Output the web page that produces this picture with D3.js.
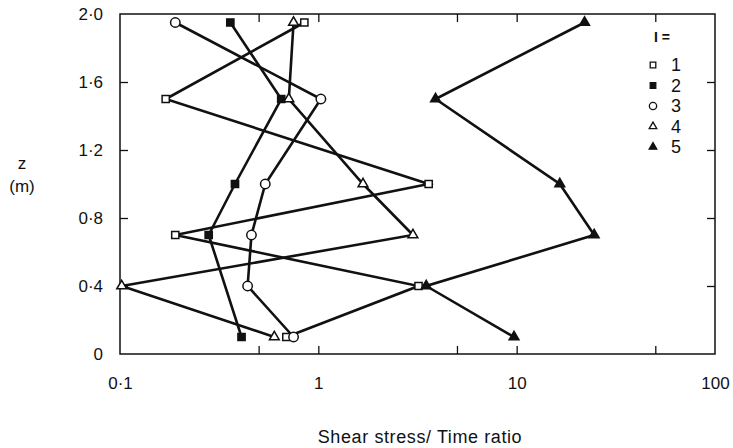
<!DOCTYPE html>
<html>
<head>
<meta charset="utf-8">
<script src="https://cdn.jsdelivr.net/npm/d3@7"></script>
<style>
  body { margin: 0; background: #fff; }
  text { font-family: "Liberation Sans", Arial, sans-serif; fill: #111; }
</style>
</head>
<body>
<div id="chart"></div>
<script>
(function () {

  // depth levels (m)
  const depths = [1.95, 1.5, 1.0, 0.7, 0.4, 0.1];

  // shear stress / time ratio for each series, same order as depths
  const series1 = [0.85, 0.17, 3.6, 0.19, 3.2, 0.69];
  const series2 = [0.36, 0.65, 0.38, 0.28, 0.41];
  const series2Depths = [1.95, 1.5, 1.0, 0.7, 0.1];
  const series3 = [0.19, 1.03, 0.54, 0.46, 0.44, 0.75];
  const series4 = [0.75, 0.71, 1.68, 3.0, 0.102, 0.6];
  const series5 = [22, 3.9, 16.5, 24.6, 3.5, 9.7];

  const seriesNames = ['1', '2', '3', '4', '5'];
  const xTickLabels = [0.1, 1, 10, 100];
  const xMinorTicks = [0.5, 1, 5, 10, 50];
  const yTickLabels = [0, 0.4, 0.8, 1.2, 1.6, 2.0];
  const yInnerTicks = [0.4, 0.8, 1.2, 1.6];

  const width = 733,
    height = 448,
    left = 120, right = 715, top = 14, bottom = 354;

  const x = d3.scaleLog().domain([0.1, 100]).range([left, right]);
  const y = d3.scaleLinear().domain([0, 2]).range([bottom, top]);

  const symbols = [
    { type: d3.symbolSquare, fill: '#fff', size: 52 },
    { type: d3.symbolSquare, fill: '#111', size: 52 },
    { type: d3.symbolCircle, fill: '#fff', size: 70 },
    { type: d3.symbolTriangle, fill: '#fff', size: 42 },
    { type: d3.symbolTriangle, fill: '#111', size: 42 }
  ];

  const data = [
    series1.map((v, i) => ({ x: v, z: depths[i] })),
    series2.map((v, i) => ({ x: v, z: series2Depths[i] })),
    series3.map((v, i) => ({ x: v, z: depths[i] })),
    series4.map((v, i) => ({ x: v, z: depths[i] })),
    series5.map((v, i) => ({ x: v, z: depths[i] }))
  ];

  const svg = d3.select('#chart')
    .append('svg')
    .attr('width', width)
    .attr('height', height);

  const dot = s => String(s).replace('.', '·');

  // inner ticks
  svg.append('g')
    .attr('transform', `translate(0, ${bottom})`)
    .call(d3.axisBottom(x).tickValues(xMinorTicks).tickSize(-8).tickFormat(''))
    .call(g => g.select('.domain').remove());

  svg.append('g')
    .attr('transform', `translate(0, ${top})`)
    .call(d3.axisTop(x).tickValues(xMinorTicks).tickSize(-8).tickFormat(''))
    .call(g => g.select('.domain').remove());

  svg.append('g')
    .attr('transform', `translate(${right}, 0)`)
    .call(d3.axisRight(y).tickValues(yInnerTicks).tickSize(-8).tickFormat(''))
    .call(g => g.select('.domain').remove());

  svg.append('g')
    .attr('transform', `translate(${left}, 0)`)
    .call(d3.axisLeft(y).tickValues(yTickLabels).tickSize(-8).tickPadding(17)
      .tickFormat(d => d === 0 ? '0' : dot(d3.format('.1f')(d))))
    .call(g => g.select('.domain').remove())
    .call(g => g.selectAll('.tick line').filter(d => d === 0 || d === 2).remove())
    .call(g => g.selectAll('text').style('font-size', '17px'));

  svg.append('g')
    .attr('transform', `translate(0, ${bottom})`)
    .call(d3.axisBottom(x).tickValues(xTickLabels).tickSize(0).tickPadding(23)
      .tickFormat(d => dot(d)))
    .call(g => g.select('.domain').remove())
    .call(g => g.selectAll('text').style('font-size', '17px'));

  svg.selectAll('.tick line').attr('stroke', '#111').attr('stroke-width', 1.3);

  // frame
  svg.append('rect')
    .attr('x', left)
    .attr('y', top)
    .attr('width', right - left)
    .attr('height', bottom - top)
    .attr('fill', 'none')
    .attr('stroke', '#111')
    .attr('stroke-width', 1.5);

  // lines
  const line = d3.line().x(d => x(d.x)).y(d => y(d.z));

  svg.selectAll('.serie')
    .data(data)
    .enter()
    .append('path')
    .attr('class', 'serie')
    .attr('d', line)
    .attr('fill', 'none')
    .attr('stroke', '#111')
    .attr('stroke-width', 2.6);

  // markers
  data.forEach((pts, i) => {
    const s = symbols[i];
    svg.append('g')
      .selectAll('path')
      .data(pts)
      .enter()
      .append('path')
      .attr('transform', d => `translate(${x(d.x)}, ${y(d.z)})`)
      .attr('d', d3.symbol().type(s.type).size(s.size))
      .attr('fill', s.fill)
      .attr('stroke', '#111')
      .attr('stroke-width', 1.5);
  });

  // axis titles
  svg.append('text')
    .attr('x', 22)
    .attr('y', 169)
    .attr('text-anchor', 'middle')
    .style('font-size', '17px')
    .text('z');

  svg.append('text')
    .attr('x', 22)
    .attr('y', 192)
    .attr('text-anchor', 'middle')
    .style('font-size', '17px')
    .text('(m)');

  svg.append('text')
    .attr('x', 420)
    .attr('y', 443)
    .attr('text-anchor', 'middle')
    .style('font-size', '18px')
    .style('letter-spacing', '0.6px')
    .text('Shear stress/ Time ratio');

  // legend
  const legend = svg.append('g');

  legend.append('text')
    .attr('x', 654)
    .attr('y', 42)
    .style('font-size', '14px')
    .style('font-weight', 'bold')
    .text('I =');

  const item = legend.selectAll('.item')
    .data(seriesNames)
    .enter()
    .append('g')
    .attr('class', 'item')
    .attr('transform', (d, i) => `translate(653, ${65 + i * 20.5})`);

  item.append('path')
    .attr('d', (d, i) => d3.symbol().type(symbols[i].type).size(symbols[i].size * 0.6)())
    .attr('fill', (d, i) => symbols[i].fill)
    .attr('stroke', '#111')
    .attr('stroke-width', 1.3);

  item.append('text')
    .attr('x', 18)
    .attr('dy', '0.36em')
    .style('font-size', '18px')
    .text(d => d);

})();
</script>
</body>
</html>
